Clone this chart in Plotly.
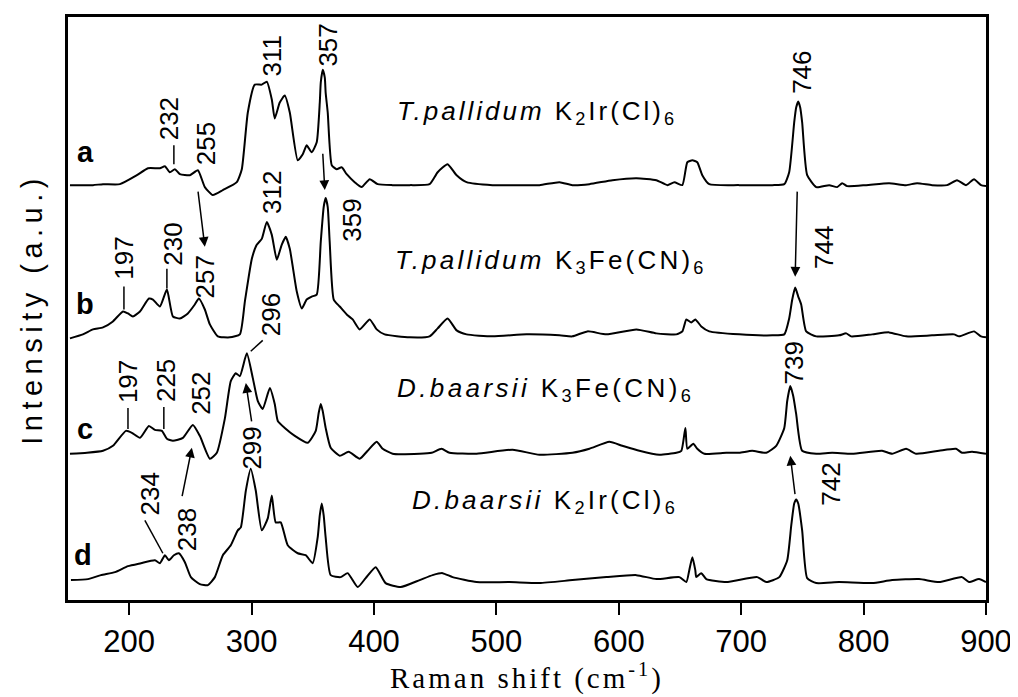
import plotly.graph_objects as go

# ---------------- data (Raman shift in cm-1, stacked intensity in a.u.) ----------------
x_a = [151.6,170.4,178.6,192.4,206.3,215.3,225.1,229.2,233.2,237.3,241.4,249.6,256.1,261.8,268.3,276.5,
       287.9,292.0,296.9,302.6,308.3,312.4,316.5,318.9,323.0,327.1,331.2,337.7,341.8,345.0,349.1,353.2,
       355.7,356.5,358.1,359.8,360.5,362.2,365.5,369.5,373.6,377.7,384.2,389.9,396.5,403.0,415.2,429.1,
       445.4,452.0,460.1,467.5,475.6,496.8,518.9,535.2,551.5,562.1,576.0,594.8,614.4,630.7,639.7,645.4,
       651.9,656.0,660.1,664.1,668.2,673.9,698.4,725.4,735.2,739.2,743.3,744.9,746.6,748.2,749.8,753.9,
       761.3,771.9,778.4,782.5,786.6,802.1,820.8,834.7,843.7,855.9,868.2,876.3,883.7,890.2,895.9,900.0]
y_a = [417,417,418,418,427,434,434,436,430,433,428,427,432,415,407,412,
       420,433,490,518,518,521,503,484,500,507,490,442,448,457,450,460,
       500,520,533,525,510,490,437,433,435,428,420,415,423,418,417,417,
       418,430,438,427,420,417,417,417,420,417,418,422,424,422,417,420,
       417,440,442,440,427,418,417,417,418,430,480,495,501,495,480,427,
       415,417,415,419,416,417,419,417,419,417,417,422,417,423,417,416]

x_b = [151.6,162.2,170.4,178.6,186.7,194.9,199.0,203.0,208.8,216.1,219.4,225.1,230.8,235.7,241.4,247.9,
       253.6,256.9,261.8,265.9,272.4,282.2,290.4,294.5,300.2,304.2,308.3,312.4,316.5,320.6,324.6,327.9,
       331.2,336.9,341.0,345.0,349.1,353.2,356.5,358.9,360.5,362.2,363.8,367.1,372.0,377.7,382.6,388.3,
       396.5,402.2,408.7,429.1,445.4,452.0,460.1,467.5,475.6,496.8,524.6,551.5,562.1,574.4,589.9,614.4,
       630.7,647.0,651.9,655.2,659.2,662.5,667.4,673.9,698.4,725.4,735.2,739.2,741.7,744.1,746.6,749.0,
       753.1,761.3,780.0,785.8,789.8,807.0,820.8,834.7,855.9,873.9,878.0,890.2,895.9,900.0]
y_b = [263,267,272,274,280,290,288,285,290,303,302,295,312,285,283,288,
       297,303,292,277,265,264,267,300,343,357,363,380,367,342,357,365,
       353,310,293,302,305,307,360,395,404,395,360,302,295,287,282,272,
       282,272,267,264,265,273,283,271,267,265,267,266,265,270,267,272,
       268,267,270,282,279,282,275,270,267,266,267,283,302,314,305,297,
       270,265,266,268,265,267,269,265,266,267,265,270,265,264]

x_c = [151.6,165.5,178.6,186.7,197.3,202.2,208.8,216.1,221.0,226.7,230.8,235.7,243.9,252.0,257.7,265.9,
       271.6,278.1,283.0,287.1,290.4,296.1,301.0,305.1,309.1,314.9,318.9,321.4,327.1,335.3,345.9,352.4,
       354.8,356.5,358.1,360.5,364.6,372.0,379.3,388.3,394.8,402.2,407.1,415.2,437.3,447.1,455.2,461.7,
       483.8,513.2,535.2,562.1,576.0,592.3,602.9,616.8,633.1,647.0,651.1,654.4,656.0,660.9,664.1,669.9,
       687.8,698.4,709.0,720.5,728.6,735.2,737.6,740.1,742.5,744.9,749.8,761.3,774.3,790.6,815.1,823.3,
       834.7,842.9,861.6,875.5,880.4,888.6,900.0]
y_c = [147,148,150,155,170,168,163,175,171,170,162,160,163,176,165,142,
       148,182,220,228,225,248,223,200,192,213,197,180,173,165,158,170,
       188,197,190,173,153,145,149,142,150,159,152,147,147,148,152,148,
       147,151,146,148,152,159,155,150,146,148,150,173,152,157,152,147,
       148,148,150,148,155,173,200,215,205,187,150,147,148,147,150,147,
       152,147,150,152,148,149,147]

x_d = [152.4,166.3,176.9,188.4,199.0,209.6,221.0,225.1,229.2,232.4,236.5,240.6,245.5,250.4,257.7,264.3,
       270.0,276.5,283.0,288.7,291.2,295.3,299.3,303.4,308.3,313.2,316.5,319.7,323.8,329.5,337.7,344.2,
       349.9,354.0,355.7,357.3,358.9,360.5,364.6,372.8,378.5,386.7,393.2,401.4,409.5,421.8,437.3,447.9,
       456.0,464.2,483.8,510.7,535.2,562.1,589.9,614.4,630.7,649.5,655.2,657.6,660.1,662.5,663.3,667.4,
       671.5,687.8,713.1,720.5,731.1,737.6,740.9,743.3,744.9,746.6,749.8,753.9,761.3,780.0,807.0,823.3,
       845.3,861.6,880.4,886.1,894.3,900.0]
y_d = [20,21,25,28,34,37,40,37,45,40,45,47,38,23,16,15,
       23,45,55,70,73,110,132,110,70,82,105,78,78,55,47,45,
       37,63,85,97,85,63,25,23,27,13,22,33,17,13,20,25,
       27,23,18,18,17,20,23,25,21,23,18,30,43,30,23,27,
       21,18,23,18,23,40,75,97,101,97,70,22,17,18,17,20,
       21,18,23,18,21,18]

x_ticks = [200, 300, 400, 500, 600, 700, 800, 900]

# peak labels: (text, x, y)
peak_labels = [("232", 233.2, 484), ("255", 263.4, 459), ("311", 316.5, 547), ("357", 362.2, 558),
               ("746", 749.8, 530), ("197", 195.7, 344), ("230", 235.7, 358), ("257", 261.8, 325),
               ("312", 316.5, 410), ("359", 381.8, 382), ("744", 767.8, 354), ("197", 199.0, 220),
               ("225", 230.0, 221), ("252", 258.5, 208), ("296", 316.5, 287), ("299", 300.2, 153),
               ("234", 216.9, 107), ("238", 247.9, 71), ("739", 743.3, 238), ("742", 772.7, 116)]
# leader lines: (x0, y0, x1, y1)
leaders = [(236.5, 457, 236.5, 438), (195.7, 315, 195.7, 292), (230.8, 333, 230.8, 313),
           (199.0, 193, 199.0, 172), (228.3, 194, 228.3, 172), (299.3, 250, 309.1, 261),
           (212.8, 80, 227.5, 47)]
# arrows: (tail x, tail y, head x, head y)
arrows = [(256.1, 412, 261.8, 355), (358.1, 450, 359.8, 412), (745.8, 412, 744.1, 325),
          (300.2, 178, 295.3, 218), (243.0, 103, 251.2, 153), (744.1, 105, 740.1, 145)]
# sample names: (html text, left x, y, letter spacing)
samples = [("<i>T.pallidum</i> K<sub>2</sub>Ir(Cl)<sub>6</sub>", 416.9, 490, 3.0),
           ("<i>T.pallidum</i> K<sub>3</sub>Fe(CN)<sub>6</sub>", 415.2, 340, 3.2),
           ("<i>D.baarsii</i> K<sub>3</sub>Fe(CN)<sub>6</sub>", 416.9, 212, 3.4),
           ("<i>D.baarsii</i> K<sub>2</sub>Ir(Cl)<sub>6</sub>", 429.1, 99, 3.2)]
panel_letters = [("a", 163.9, 450), ("b", 163.9, 298), ("c", 163.9, 172), ("d", 162.2, 45)]

# ---------------- figure ----------------
fig = go.Figure()
for xs, ys in [(x_a, y_a), (x_b, y_b), (x_c, y_c), (x_d, y_d)]:
    fig.add_trace(go.Scatter(x=xs, y=ys, mode="lines", line=dict(color="black", width=2,
                                                               shape="spline", smoothing=0.5),
                             hoverinfo="skip", showlegend=False))

SANS = "Liberation Sans, Arial, sans-serif"
ann = []
for t, x, y in peak_labels:
    ann.append(dict(x=x, y=y, xref="x", yref="y", text=t, textangle=-90, showarrow=False,
                    xanchor="center", yanchor="middle", font=dict(family=SANS, size=26, color="black")))
for t, x, y in panel_letters:
    ann.append(dict(x=x, y=y, xref="x", yref="y", text="<b>%s</b>" % t, showarrow=False,
                    xanchor="center", yanchor="middle", font=dict(family=SANS, size=29, color="black")))
for t, x, y, ls in samples:
    ann.append(dict(x=x, y=y, xref="x", yref="y",
                    text='<span style="letter-spacing:%.1fpx">%s</span>' % (ls, t),
                    showarrow=False, xanchor="left", yanchor="middle",
                    font=dict(family=SANS, size=26, color="black")))
for tx, ty, hx, hy in arrows:
    ann.append(dict(x=hx, y=hy, ax=tx, ay=ty, xref="x", yref="y", axref="x", ayref="y", text="",
                    showarrow=True, arrowhead=2, arrowsize=1.3, arrowwidth=1.5, arrowcolor="black",
                    standoff=0, startstandoff=0))
# axis titles
ann.append(dict(x=-0.040, y=0.5, xref="paper", yref="paper", textangle=-90, showarrow=False,
                text='<span style="letter-spacing:5.5px">Intensity (a.u.)</span>',
                xanchor="center", yanchor="middle", font=dict(family=SANS, size=29, color="black")))
ann.append(dict(x=0.5, y=-0.131, xref="paper", yref="paper", showarrow=False,
                text='<span style="letter-spacing:3px">Raman shift (cm<sup>-1</sup>)</span>',
                xanchor="center", yanchor="middle",
                font=dict(family="Liberation Serif, Times New Roman, serif", size=29, color="black")))

shapes = [dict(type="line", xref="x", yref="y", x0=a, y0=b, x1=c, y1=d,
               line=dict(color="black", width=1.5)) for a, b, c, d in leaders]

# the page body keeps an 8 px default margin, so the figure is 8 px smaller on each axis
fig.update_layout(
    width=1010, height=689,
    margin=dict(l=60, r=31, t=6, b=97),
    paper_bgcolor="white", plot_bgcolor="white",
    annotations=ann, shapes=shapes,
    xaxis=dict(range=[150, 900], tickvals=x_ticks, ticks="outside", ticklen=12, tickwidth=2,
               tickcolor="black", showline=True, linewidth=2.5, linecolor="black", mirror=True,
               showgrid=False, zeroline=False,
               tickfont=dict(family=SANS, size=31, color="black")),
    yaxis=dict(range=[0, 586], showticklabels=False, ticks="", showline=True, linewidth=2.5,
               linecolor="black", mirror=True, showgrid=False, zeroline=False),
)

fig.write_html("out.html")
